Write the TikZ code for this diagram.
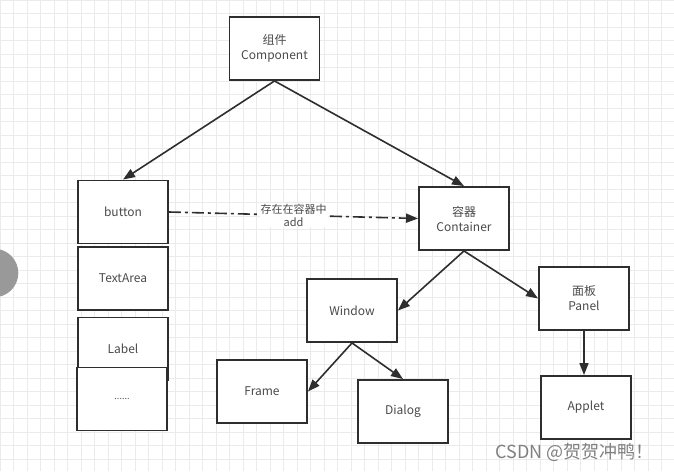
\documentclass[tikz,border=0pt]{standalone}
\usepackage{fontspec}
\setmainfont{Noto Sans CJK SC}
\usetikzlibrary{arrows.meta}
\definecolor{gridc}{HTML}{EBEBEB}
\definecolor{edge}{HTML}{2E2E2E}
\definecolor{txt}{HTML}{4A4A4A}
\begin{document}
\begin{tikzpicture}[x=1pt,y=-1pt,
  box/.style={draw=edge, line width=1.9pt, fill=white, minimum width=90pt, minimum height=63pt, inner sep=0pt, text=txt, align=center, font=\fontsize{12}{15}\selectfont},
  arr/.style={draw=edge, line width=1.6pt, -{Triangle[length=12pt,width=9pt]}},
  dashdot/.style={dash pattern=on 12pt off 4pt on 3pt off 4pt}]
\useasboundingbox (0,0) rectangle (674,471);
\clip (0,0) rectangle (674,471);
\fill[white] (0,0) rectangle (674,471);
\foreach \g in {0,13.5,...,674} \draw[gridc, line width=0.6pt] (\g,0) -- (\g,471);
\foreach \g in {0,13.5,...,471} \draw[gridc, line width=0.6pt] (0,\g) -- (674,\g);
\fill[gray!80] (-6,273) circle (24.3);

\node[box] (comp) at (274.5,48.5) {组件\\Component};
\node[box] (button) at (123,212) {button};
\node[box] (textarea) at (123,278.5) {TextArea};
\node[box] (label) at (123,349) {Label};
\node[box] (dots) at (122,399) {\fontsize{9}{10}\selectfont ......};
\node[box] (container) at (464,218.5) {容器\\Container};
\node[box] (window) at (352,310.5) {Window};
\node[box] (frame) at (262,391.5) {Frame};
\node[box] (dialog) at (403,411.5) {Dialog};
\node[box] (panel) at (584,298.5) {面板\\Panel};
\node[box] (applet) at (586,407.5) {Applet};

\draw[arr] (comp.south) -- (button.north);
\draw[arr] (comp.south) -- (container.north);
\draw[arr] (container.south) -- (window.east);
\draw[arr] (container.south) -- (panel.west);
\draw[arr] (window.south) -- (frame.east);
\draw[arr] (window.south) -- (dialog.north);
\draw[arr] (panel.south) -- (panel.south |- applet.north);
\draw[arr, dashdot] (button.east) -- node[fill=white, inner sep=1pt, text=txt, align=center, font=\fontsize{11}{13}\selectfont] (addlbl) {存在在容器中\\add} (container.west);

\node[anchor=west, text=gray, font=\fontsize{18}{18}\selectfont] (wm) at (492,452) {CSDN @贺贺冲鸭！};
\end{tikzpicture}
\end{document}
